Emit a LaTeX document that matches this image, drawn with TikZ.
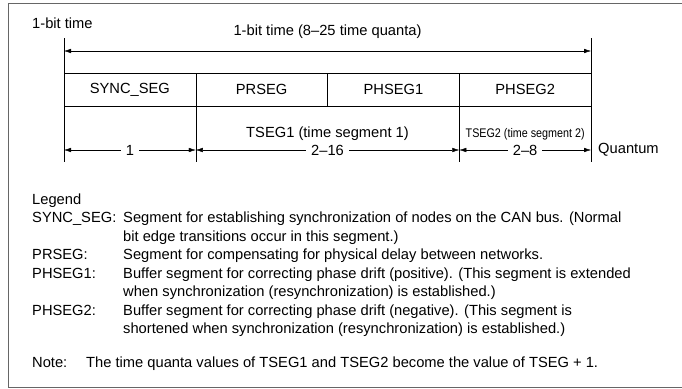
\documentclass[tikz,border=0pt]{standalone}
\usepackage{fontspec}
\setmainfont{Liberation Sans}
\usetikzlibrary{arrows.meta,positioning}

\begin{document}
\begin{tikzpicture}[
  x=1pt, y=-1pt,
  font=\fontsize{14.7}{17}\selectfont,
  seg/.style={draw, minimum width=131.75pt, minimum height=33pt, inner sep=0pt, outer sep=0pt},
  dim/.style={{Latex[length=7pt,width=4.5pt]}-{Latex[length=7pt,width=4.5pt]}},
  num/.style={fill=white, inner xsep=5pt, inner ysep=1pt},
  txt/.style={anchor=base west, inner sep=0pt}
]
  \useasboundingbox (0,0) rectangle (682,388);
  \draw[gray!80!black, line width=1pt] (683,3) -- (8,3) -- (8,387) -- (683,387);

  \node[txt] (head) at (32,28) {1-bit time};

  % segments of one bit
  \node[seg] (sync) at (129.9,89.5) {SYNC\_SEG};
  \node[seg, right=0pt of sync] (prseg) {PRSEG};
  \node[seg, right=0pt of prseg] (phseg1) {PHSEG1};
  \node[seg, right=0pt of phseg1] (phseg2) {PHSEG2};

  % extension lines
  \draw (sync.north west) ++(0,-35) -- ++(0,124);
  \draw (phseg2.north east) ++(0,-35) -- ++(0,124);
  \draw (sync.south east) -- ++(0,56);
  \draw (phseg1.south east) -- ++(0,56);

  \coordinate (t0) at ([yshift=22pt]sync.north west);
  \coordinate (t1) at ([yshift=22pt]phseg2.north east);
  \coordinate (b0) at ([yshift=-44pt]sync.south west);
  \coordinate (b1) at ([yshift=-44pt]sync.south east);
  \coordinate (b2) at ([yshift=-44pt]phseg1.south east);
  \coordinate (b3) at ([yshift=-44pt]phseg2.south east);

  \draw[dim] (t0) -- node[above=9pt] (bit) {1-bit time (8--25 time quanta)} (t1);
  \draw[dim] (b0) -- node[num] (q1) {1} (b1);
  \draw[dim] (b1) -- node[num] (q2) {2--16} (b2);
  \draw[dim] (b2) -- node[num] (q3) {2--8} (b3);
  \node[above=0pt of q2] (tseg1) {TSEG1 (time segment 1)};
  \node[above=0pt of q3, font=\fontsize{12.5}{14}\selectfont] (tseg2) {\scalebox{0.86}[1]{TSEG2 (time segment 2)}};
  \node[anchor=west, inner sep=0pt] (quant) at ([xshift=7pt]b3) {Quantum};

  % legend
  \node[txt] (lgd) at (32,204) {Legend};
  \node[txt] (l1) at (32,222.5) {SYNC\_SEG:};
  \node[txt] (d1) at (123,222.5) {Segment for establishing synchronization of nodes on the CAN bus. (Normal};
  \node[txt] (d1b) at (123,241) {bit edge transitions occur in this segment.)};
  \node[txt] (l2) at (32,259.5) {PRSEG:};
  \node[txt] (d2) at (123,259.5) {Segment for compensating for physical delay between networks.};
  \node[txt] (l3) at (32,278) {PHSEG1:};
  \node[txt] (d3) at (123,278) {Buffer segment for correcting phase drift (positive). (This segment is extended};
  \node[txt] (d3b) at (123,296.5) {when synchronization (resynchronization) is established.)};
  \node[txt] (l4) at (32,315) {PHSEG2:};
  \node[txt] (d4) at (123,315) {Buffer segment for correcting phase drift (negative). (This segment is};
  \node[txt] (d4b) at (123,333.5) {shortened when synchronization (resynchronization) is established.)};
  \node[txt] (note) at (32,367) {Note:};
  \node[txt] (noted) at (86,367) {The time quanta values of TSEG1 and TSEG2 become the value of TSEG + 1.};
\end{tikzpicture}
\end{document}
